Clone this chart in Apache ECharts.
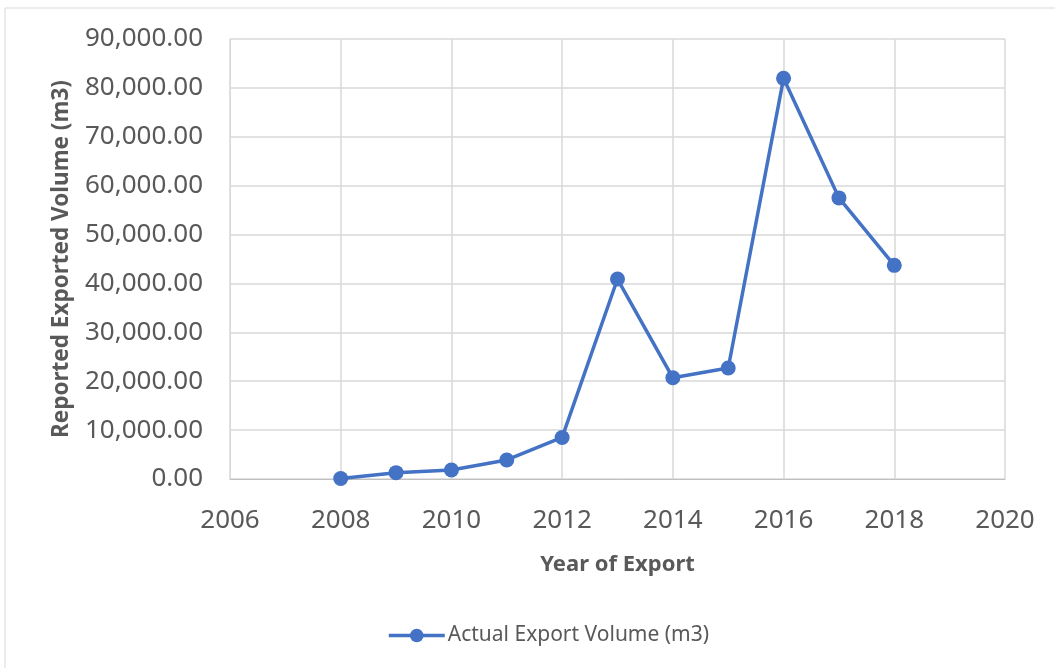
<!DOCTYPE html>
<html><head><meta charset="utf-8">
<script src="https://cdn.jsdelivr.net/npm/echarts@6/dist/echarts.min.js"></script>
<style>html,body{margin:0;padding:0;background:#fff}#c{width:1055px;height:668px}</style>
</head><body><div id="c"></div>
<script>
const years = [2008, 2009, 2010, 2011, 2012, 2013, 2014, 2015, 2016, 2017, 2018];
const volumes = [100, 1300, 1850, 3900, 8500, 40900, 20700, 22700, 81950, 57500, 43700];
const seriesName = 'Actual Export Volume (m3)';
const xTitle = 'Year of Export';
const yTitle = 'Reported Exported Volume (m3)';

const chart = echarts.init(document.getElementById('c'));
const font = '"Noto Sans", "Open Sans", sans-serif';
chart.setOption({
  animation: false,
  backgroundColor: '#fff',
  graphic: [{type:'rect', shape:{x:5,y:8,width:1060,height:670}, style:{fill:'none', stroke:'#d9d9d9', lineWidth:1}, silent:true}],
  grid: {left: 230, right: 50, top: 39, bottom: 189},
  legend: {bottom: 17, left: 382, itemWidth: 56, itemHeight: 17, itemGap: 4,
    lineStyle: {width: 3.5},
    textStyle: {color: '#595959', fontSize: 21, fontFamily: font, padding: [0,0,0,-2]}},
  xAxis: {type: 'value', min: 2006, max: 2020, interval: 2,
    name: xTitle, nameLocation: 'middle', nameGap: 75,
    nameTextStyle: {color: '#595959', fontSize: 22, fontWeight: 'bold', fontFamily: font},
    axisLine: {show: true, lineStyle: {color: '#bfbfbf'}}, axisTick: {show: false},
    axisLabel: {color: '#595959', fontSize: 26, margin: 29, fontFamily: font, formatter: v => String(v)},
    splitLine: {show: true, lineStyle: {color: '#d9d9d9', width: 1.5}}},
  yAxis: {type: 'value', min: 0, max: 90000, interval: 10000,
    name: yTitle, nameLocation: 'middle', nameGap: 157, nameRotate: 90,
    nameTextStyle: {color: '#595959', fontSize: 22.5, fontWeight: 'bold', fontFamily: font},
    axisLine: {show: true, lineStyle: {color: '#d9d9d9'}}, axisTick: {show: false},
    axisLabel: {color: '#595959', fontSize: 26, margin: 27, fontFamily: font,
      formatter: v => v.toLocaleString('en-US', {minimumFractionDigits: 2, maximumFractionDigits: 2})},
    splitLine: {show: true, lineStyle: {color: '#d9d9d9', width: 1.5}}},
  series: [{name: seriesName, type: 'line', data: years.map((y, i) => [y, volumes[i]]),
    symbol: 'circle', symbolSize: 15,
    lineStyle: {color: '#4472C4', width: 3.5}, itemStyle: {color: '#4472C4'}}]
});
</script></body></html>
